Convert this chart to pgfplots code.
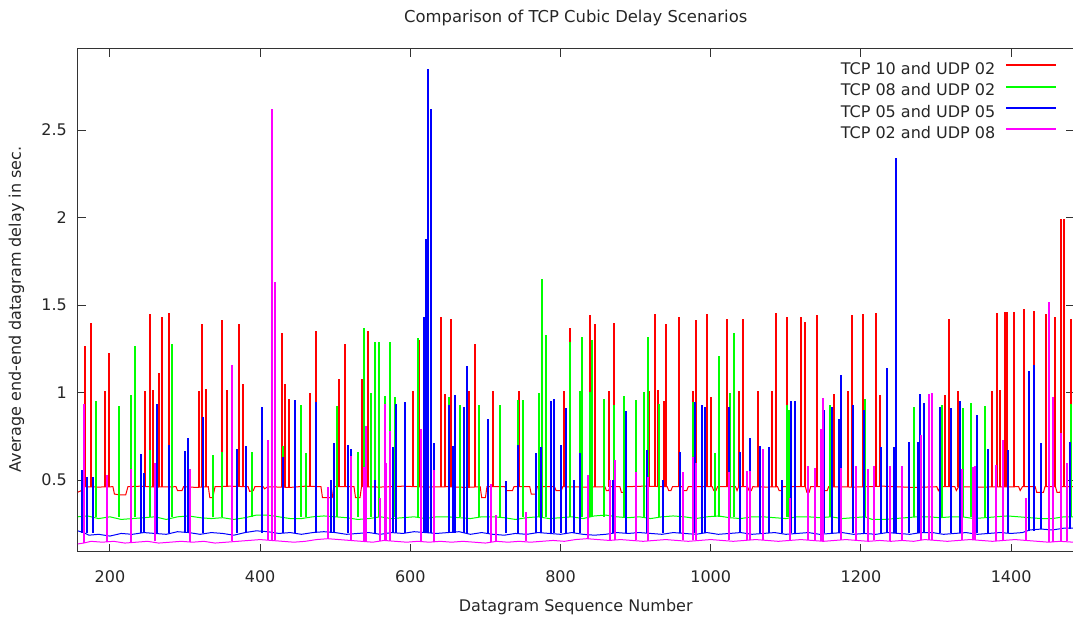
\documentclass[border=0pt]{standalone}
\usepackage{fontspec}
\setmainfont{DejaVu Sans}
\usepackage{pgfplots}
\usepackage{pgfplotstable}
\pgfplotsset{compat=1.18}
\usetikzlibrary{calc}
\definecolor{gpred}{RGB}{255,0,0}
\definecolor{gpgreen}{RGB}{0,255,0}
\definecolor{gpblue}{RGB}{0,0,255}
\definecolor{gpmag}{RGB}{255,0,255}

% spikes: x, base, top
\pgfplotstableread{
x b t
166.9 0.46 1.265
174.4 0.46 1.40
193.4 0.46 1.01
199 0.46 1.225
247 0.46 1.01
254 0.46 1.45
258 0.46 1.015
265 0.46 1.11
269 0.46 1.43
278 0.46 1.455
318 0.46 1.01
323 0.46 1.39
327.6 0.46 1.02
349 0.46 1.415
356 0.46 1.015
372 0.46 1.39
376.6 0.46 1.05
429 0.46 1.34
433.5 0.46 1.05
438 0.46 0.965
466 0.46 1.0
474 0.46 1.35
505.5 0.46 1.075
513.5 0.46 1.28
536 0.46 1.08
543 0.46 1.35
603.5 0.46 1.01
611 0.46 1.30
641 0.46 1.43
646 0.46 0.99
654 0.46 1.42
678.6 0.46 1.01
686.5 0.46 1.28
710 0.46 1.01
745 0.46 1.01
805 0.46 1.01
812 0.46 1.37
839 0.46 1.443
846 0.46 1.39
865 0.46 1.01
870.6 0.46 1.40
918 0.46 1.01
926 0.46 1.45
930 0.46 1.015
937.7 0.46 0.95
941 0.46 1.39
958 0.46 1.43
976 0.46 1.01
980 0.46 1.415
995 0.46 1.45
1000.4 0.46 0.974
1021 0.46 1.42
1038 0.46 1.01
1043 0.46 1.42
1062.7 0.46 1.01
1081 0.46 1.01
1086.5 0.46 1.455
1101 0.46 1.43
1120.5 0.46 1.43
1126 0.46 1.405
1141 0.46 1.443
1164 0.46 0.993
1182.6 0.46 1.01
1188 0.46 1.443
1202.7 0.46 1.45
1220.5 0.46 1.455
1226 0.46 0.984
1312 0.46 0.984
1317.4 0.46 1.42
1328.6 0.46 1.01
1375 0.46 1.01
1381 0.46 1.455
1385.7 0.46 1.015
1392 0.46 1.462
1394 0.46 1.46
1403.6 0.46 1.462
1417.4 0.46 1.48
1430 0.46 1.465
1446 0.46 1.45
1458 0.46 1.43
1466 0.46 1.99
1471 0.46 1.99
1480 0.46 1.42
}\redspikes

\pgfplotstableread{
x b t
181.5 0.29 0.95
212 0.29 0.923
228 0.29 0.984
234 0.29 1.267
254 0.29 0.67
282.6 0.29 1.275
337.7 0.29 0.646
349 0.29 0.66
389 0.29 0.66
431 0.29 0.695
454 0.29 0.927
460.5 0.29 0.657
503 0.29 0.923
530 0.29 0.66
538 0.29 1.367
547 0.29 1.0
553 0.29 1.29
558 0.29 1.29
566 0.29 0.98
573 0.29 1.29
579 0.29 0.974
610 0.29 1.31
652 0.29 0.974
666.7 0.29 0.927
692 0.29 0.927
719 0.29 0.927
743.5 0.29 0.955
750.5 0.29 0.955
771 0.29 1.0
775 0.29 1.65
780 0.29 1.33
813 0.29 1.29
825.6 0.29 1.01
828 0.29 1.315
839 0.29 1.005
842 0.29 1.30
858 0.29 0.965
870.6 0.29 0.927
884 0.29 0.98
900 0.29 0.96
911.7 0.29 1.005
916.6 0.29 1.32
931.6 0.29 0.936
976.6 0.29 0.946
1005 0.29 0.656
1010.6 0.29 1.21
1026 0.29 1.0
1030.5 0.29 1.34
1101 0.29 0.93
1104.6 0.29 0.90
1159 0.29 0.93
1190 0.29 0.66
1205.8 0.29 0.965
1270.5 0.29 0.92
1308 0.29 0.927
1336 0.29 0.91
1347 0.29 0.94
1365.6 0.29 0.923
1480 0.29 0.936
}\greenspikes

\pgfplotstableread{
x b t
162.5 0.20 0.557
170 0.20 0.52
178 0.20 0.52
195.6 0.20 0.52
242 0.20 0.65
245.5 0.20 0.54
262.7 0.20 0.936
278 0.20 0.70
300 0.20 0.667
304.6 0.20 0.74
324.5 0.20 0.86
369 0.20 0.68
381 0.20 0.695
403 0.20 0.917
431 0.20 0.633
447 0.20 0.955
474 0.20 0.946
494 0.20 0.5
499 0.20 0.71
517.4 0.20 0.70
520.5 0.20 0.68
553.6 0.20 0.5
577 0.20 0.69
581.5 0.20 0.936
592.5 0.20 0.946
617.7 0.20 1.43
621 0.20 1.88
624 0.20 2.85
627 0.20 2.62
631 0.20 0.71
652 0.20 0.927
656.5 0.20 0.695
660 0.20 0.984
672 0.20 0.92
675.5 0.20 1.15
703.8 0.20 0.85
727 0.20 0.495
743.5 0.20 0.70
767 0.20 0.655
773.5 0.20 0.69
786.7 0.20 0.95
791 0.20 0.965
801 0.20 0.70
806.6 0.20 0.91
817.7 0.20 0.50
826 0.20 0.656
870 0.20 0.5
887 0.20 0.895
915.7 0.20 0.67
937 0.20 0.5
959 0.20 0.66
979 0.20 0.946
988.5 0.20 0.927
993 0.20 0.92
1024 0.20 0.917
1038.4 0.20 0.66
1052.5 0.20 0.74
1065 0.20 0.695
1077 0.20 0.69
1095 0.20 0.50
1107 0.20 0.952
1111.7 0.20 0.952
1151 0.20 0.90
1161 0.20 0.917
1171 0.20 0.85
1173 0.20 1.10
1189 0.20 0.927
1203.6 0.20 0.90
1227 0.20 0.69
1234 0.20 1.14
1243.7 0.20 0.69
1247 0.20 2.34
1264 0.20 0.72
1276 0.20 0.72
1278.6 0.20 0.99
1284 0.20 0.94
1305 0.20 0.917
1319.6 0.20 0.91
1331.7 0.20 0.95
1355 0.20 0.87
1369.6 0.20 0.675
1395.5 0.20 0.67
1423.7 0.21 1.126
1430 0.21 1.16
1440 0.22 0.71
1478 0.22 0.72
}\bluespikes

\pgfplotstableread{
x b t
165.6 0.14 0.936
196 0.145 0.53
228.7 0.14 0.566
259.6 0.15 0.60
306 0.145 0.566
363 0.15 1.155
411 0.16 0.728
416 0.16 2.62
419.4 0.155 1.63
491 0.165 0.46
521 0.155 0.64
538.6 0.15 0.576
541 0.15 0.81
559 0.15 0.40
566 0.155 0.936
568.2 0.155 0.60
573.5 0.15 0.78
614.6 0.15 0.79
631 0.145 0.56
707 0.145 0.48
714 0.15 0.30
753.6 0.15 0.32
836.8 0.165 0.53
866 0.155 0.50
872 0.16 0.614
900 0.155 0.544
916 0.15 0.52
963 0.155 0.547
977 0.155 0.63
981 0.155 0.60
1023.7 0.155 0.544
1048.6 0.155 0.55
1051.6 0.155 0.55
1070 0.16 0.676
1105 0.155 0.40
1129 0.16 0.58
1139 0.155 0.57
1147 0.15 0.79
1150 0.15 0.97
1173 0.16 0.57
1194 0.155 0.58
1209 0.15 0.563
1217.4 0.155 0.58
1239 0.15 0.58
1255 0.155 0.58
1280 0.16 0.76
1290.6 0.16 0.993
1294 0.16 1.0
1334 0.155 0.566
1348.7 0.16 0.576
1352 0.16 0.58
1380 0.15 0.585
1389.7 0.155 0.73
1420 0.155 0.40
1451 0.145 1.52
1455.6 0.145 0.974
1467 0.15 0.77
1474 0.15 0.60
}\magentaspikes

\pgfplotsset{
  spikes/.style={#1, only marks, mark=*, mark size=0pt,
    mark options={draw=none, fill=none}, forget plot,
    error bars/.cd, y dir=plus, y explicit, error mark=none,
    error bar style={#1, line width=2pt, solid}},
}

\begin{document}
\begin{tikzpicture}[font=\fontsize{16}{19}\selectfont]
\begin{axis}[
  name=ax,
  scale only axis, width=995.5pt, height=503pt,
  xmin=157.5, xmax=1483, ymin=0.089, ymax=2.963,
  xtick={200,400,600,800,1000,1200,1400},
  xticklabels={200,400,600,800,1000,1200,1400},
  ytick={0.5,1,1.5,2,2.5},
  yticklabels={0.5,1,1.5,2,2.5},
  /pgf/number format/assume math mode=true,
  tick align=inside, major tick length=8pt,
  axis line style={draw=black!80, line width=1pt},
  every tick/.style={draw=black!80, line width=1pt},
  tick label style={text=black!85, inner sep=0pt},
  yticklabel style={xshift=-11pt},
  xticklabel style={yshift=-18pt},
  title={Comparison of TCP Cubic Delay Scenarios},
  title style={at={(axis description cs:0.5,1)}, anchor=base, yshift=20pt, inner sep=0pt, text=black!85, font=\fontsize{16.4}{19}\selectfont},
  xlabel={Datagram Sequence Number},
  xlabel style={at={(axis description cs:0.5,0)}, anchor=base, yshift=-60pt, inner sep=0pt, text=black!85},
  ylabel={Average end-end datagram delay in sec.},
  ylabel style={at={(axis description cs:-0.0573,0.482)}, anchor=base, inner sep=0pt, text=black!85},
  legend style={draw=none, fill=none, at={(axis description cs:1,1)}, anchor=north east,
    xshift=-16pt, yshift=-13pt, inner sep=0pt, column sep=10pt, row sep=7.7pt,
    nodes={inner sep=0pt, text=black!85}},
  legend cell align=right,
  legend plot pos=right,
  legend image code/.code={\draw[#1, line width=2pt] (0pt,0.36em) -- (50pt,0.36em);},
]
% ---- TCP 10 and UDP 02 (red)
\addplot[gpred, line width=1pt] coordinates {
(157,0.43) (162,0.44) (166,0.462) (185,0.46) (204,0.462) (206,0.42) (214,0.415) (221,0.415) (224,0.462)
(240,0.465) (260,0.46) (288,0.462) (290,0.44) (296,0.44) (298,0.462) (315,0.458) (331,0.462) (333,0.40)
(337,0.40) (340,0.462) (360,0.465) (384,0.462) (386,0.435) (391,0.44) (393,0.462) (404,0.462) (406,0.45)
(410,0.462) (440,0.458) (460,0.465) (481,0.462) (483,0.40) (496,0.40) (498,0.462) (525,0.462) (527,0.40)
(533,0.40) (535,0.462) (560,0.46) (590,0.465) (620,0.46) (650,0.462) (675,0.458) (693,0.462) (695,0.40)
(700,0.40) (702,0.462) (726,0.462) (728,0.44) (736,0.44) (738,0.462) (759,0.462) (761,0.42) (767,0.42)
(769,0.462) (792,0.462) (794,0.44) (801,0.44) (803,0.462) (830,0.46) (859,0.462) (861,0.44) (864,0.44)
(866,0.462) (879,0.462) (881,0.43) (885,0.43) (887,0.462) (910,0.465) (942,0.462) (944,0.44) (947,0.44)
(949,0.462) (962,0.462) (964,0.44) (968,0.44) (970,0.462) (1002,0.462) (1004,0.44) (1007,0.44) (1009,0.462)
(1033,0.462) (1035,0.44) (1037,0.462) (1049,0.462) (1051,0.44) (1054,0.44) (1056,0.462) (1075,0.46)
(1089,0.462) (1091,0.44) (1094,0.44) (1096,0.462) (1126,0.462) (1128,0.43) (1131,0.43) (1133,0.462)
(1147,0.462) (1149,0.44) (1155,0.44) (1157,0.462) (1190,0.46) (1230,0.465) (1270,0.458) (1301,0.462)
(1303,0.44) (1306,0.462) (1325,0.462) (1327,0.44) (1330,0.462) (1360,0.46) (1410,0.462) (1412,0.44)
(1415,0.462) (1432,0.462) (1434,0.43) (1443,0.43) (1445,0.462) (1459,0.462) (1461,0.43) (1465,0.43)
(1467,0.462) (1483,0.462)
};
\addlegendentry{TCP 10 and UDP 02}
\addplot[spikes=gpred] table[x=x, y=b, y error expr=\thisrow{t}-\thisrow{b}] {\redspikes};
% ---- TCP 08 and UDP 02 (green)
\addplot[gpgreen, line width=1pt] coordinates {
(157,0.29) (170,0.295) (185,0.28) (200,0.29) (215,0.275) (230,0.28) (245,0.285) (260,0.29) (275,0.275)
(290,0.29) (305,0.295) (320,0.285) (335,0.28) (350,0.285) (365,0.275) (380,0.285) (395,0.30) (410,0.30)
(425,0.29) (440,0.28) (455,0.28) (470,0.29) (485,0.295) (500,0.29) (515,0.285) (530,0.275) (545,0.28)
(560,0.29) (575,0.28) (590,0.285) (605,0.29) (620,0.28) (635,0.29) (650,0.29) (665,0.285) (680,0.28)
(695,0.29) (710,0.29) (725,0.285) (740,0.275) (755,0.285) (770,0.29) (785,0.28) (800,0.285) (815,0.29)
(830,0.28) (845,0.295) (860,0.30) (875,0.29) (890,0.285) (905,0.29) (920,0.28) (935,0.29) (950,0.295)
(965,0.29) (980,0.28) (995,0.29) (1010,0.295) (1025,0.285) (1040,0.28) (1055,0.29) (1070,0.29)
(1085,0.285) (1100,0.28) (1115,0.29) (1130,0.29) (1145,0.285) (1160,0.29) (1175,0.28) (1190,0.285)
(1205,0.29) (1215,0.275) (1230,0.275) (1245,0.28) (1260,0.285) (1275,0.29) (1290,0.29) (1305,0.285)
(1320,0.29) (1335,0.29) (1350,0.28) (1365,0.285) (1380,0.29) (1395,0.295) (1410,0.29) (1425,0.285)
(1440,0.28) (1455,0.28) (1470,0.29) (1483,0.29)
};
\addlegendentry{TCP 08 and UDP 02}
\addplot[spikes=gpgreen] table[x=x, y=b, y error expr=\thisrow{t}-\thisrow{b}] {\greenspikes};
% ---- TCP 05 and UDP 05 (blue)
\addplot[gpblue, line width=1pt] coordinates {
(157,0.21) (165,0.20) (172,0.185) (185,0.19) (200,0.18) (215,0.195) (230,0.19) (245,0.20) (260,0.195)
(275,0.19) (290,0.205) (305,0.20) (320,0.19) (335,0.20) (350,0.195) (365,0.185) (380,0.20) (395,0.21)
(410,0.205) (425,0.195) (440,0.20) (455,0.19) (470,0.20) (485,0.205) (500,0.20) (515,0.19) (530,0.195)
(545,0.20) (560,0.19) (575,0.20) (590,0.195) (605,0.205) (620,0.20) (635,0.195) (650,0.20) (665,0.205)
(680,0.19) (695,0.20) (710,0.19) (725,0.185) (740,0.195) (755,0.19) (770,0.20) (785,0.195) (800,0.19)
(815,0.20) (830,0.19) (845,0.185) (860,0.19) (875,0.20) (890,0.195) (905,0.20) (920,0.195) (935,0.19)
(950,0.20) (965,0.195) (980,0.19) (995,0.20) (1010,0.19) (1025,0.195) (1040,0.20) (1055,0.19)
(1070,0.195) (1085,0.20) (1100,0.19) (1115,0.195) (1130,0.20) (1145,0.19) (1160,0.195) (1175,0.20)
(1190,0.19) (1205,0.195) (1220,0.19) (1235,0.20) (1250,0.195) (1265,0.19) (1280,0.20) (1295,0.20)
(1310,0.19) (1325,0.195) (1340,0.20) (1355,0.19) (1370,0.195) (1385,0.20) (1400,0.195) (1415,0.20)
(1425,0.215) (1440,0.22) (1455,0.215) (1470,0.225) (1483,0.225)
};
\addlegendentry{TCP 05 and UDP 05}
\addplot[spikes=gpblue] table[x=x, y=b, y error expr=\thisrow{t}-\thisrow{b}] {\bluespikes};
% ---- TCP 02 and UDP 08 (magenta)
\addplot[gpmag, line width=1pt] coordinates {
(157,0.135) (165,0.14) (175,0.15) (190,0.145) (205,0.15) (220,0.14) (235,0.145) (250,0.15) (265,0.14)
(280,0.145) (295,0.15) (310,0.145) (325,0.15) (340,0.14) (355,0.145) (370,0.15) (385,0.155) (400,0.16)
(415,0.155) (430,0.15) (445,0.145) (460,0.15) (475,0.16) (490,0.165) (505,0.16) (520,0.155) (535,0.15)
(550,0.145) (565,0.155) (580,0.15) (595,0.145) (610,0.15) (625,0.145) (640,0.15) (655,0.145) (670,0.15)
(685,0.145) (700,0.14) (715,0.15) (730,0.145) (745,0.15) (760,0.145) (775,0.15) (790,0.155) (805,0.15)
(820,0.16) (835,0.165) (850,0.16) (865,0.155) (880,0.16) (895,0.155) (910,0.15) (925,0.155) (940,0.16)
(955,0.155) (970,0.15) (985,0.155) (1000,0.16) (1015,0.155) (1030,0.15) (1045,0.155) (1060,0.16)
(1075,0.155) (1090,0.15) (1105,0.155) (1120,0.16) (1135,0.155) (1150,0.15) (1165,0.155) (1180,0.16)
(1195,0.155) (1210,0.15) (1225,0.155) (1240,0.15) (1255,0.155) (1270,0.15) (1285,0.16) (1300,0.155)
(1315,0.15) (1330,0.155) (1345,0.16) (1360,0.155) (1375,0.15) (1390,0.155) (1405,0.16) (1420,0.155)
(1435,0.15) (1450,0.145) (1465,0.15) (1483,0.145)
};
\addlegendentry{TCP 02 and UDP 08}
\addplot[spikes=gpmag] table[x=x, y=b, y error expr=\thisrow{t}-\thisrow{b}] {\magentaspikes};
\end{axis}
\pgfresetboundingbox
\path[use as bounding box] ($(ax.south west)+(-78pt,-68pt)$) rectangle ($(ax.south west)+(995pt,552pt)$);
\end{tikzpicture}
\end{document}
